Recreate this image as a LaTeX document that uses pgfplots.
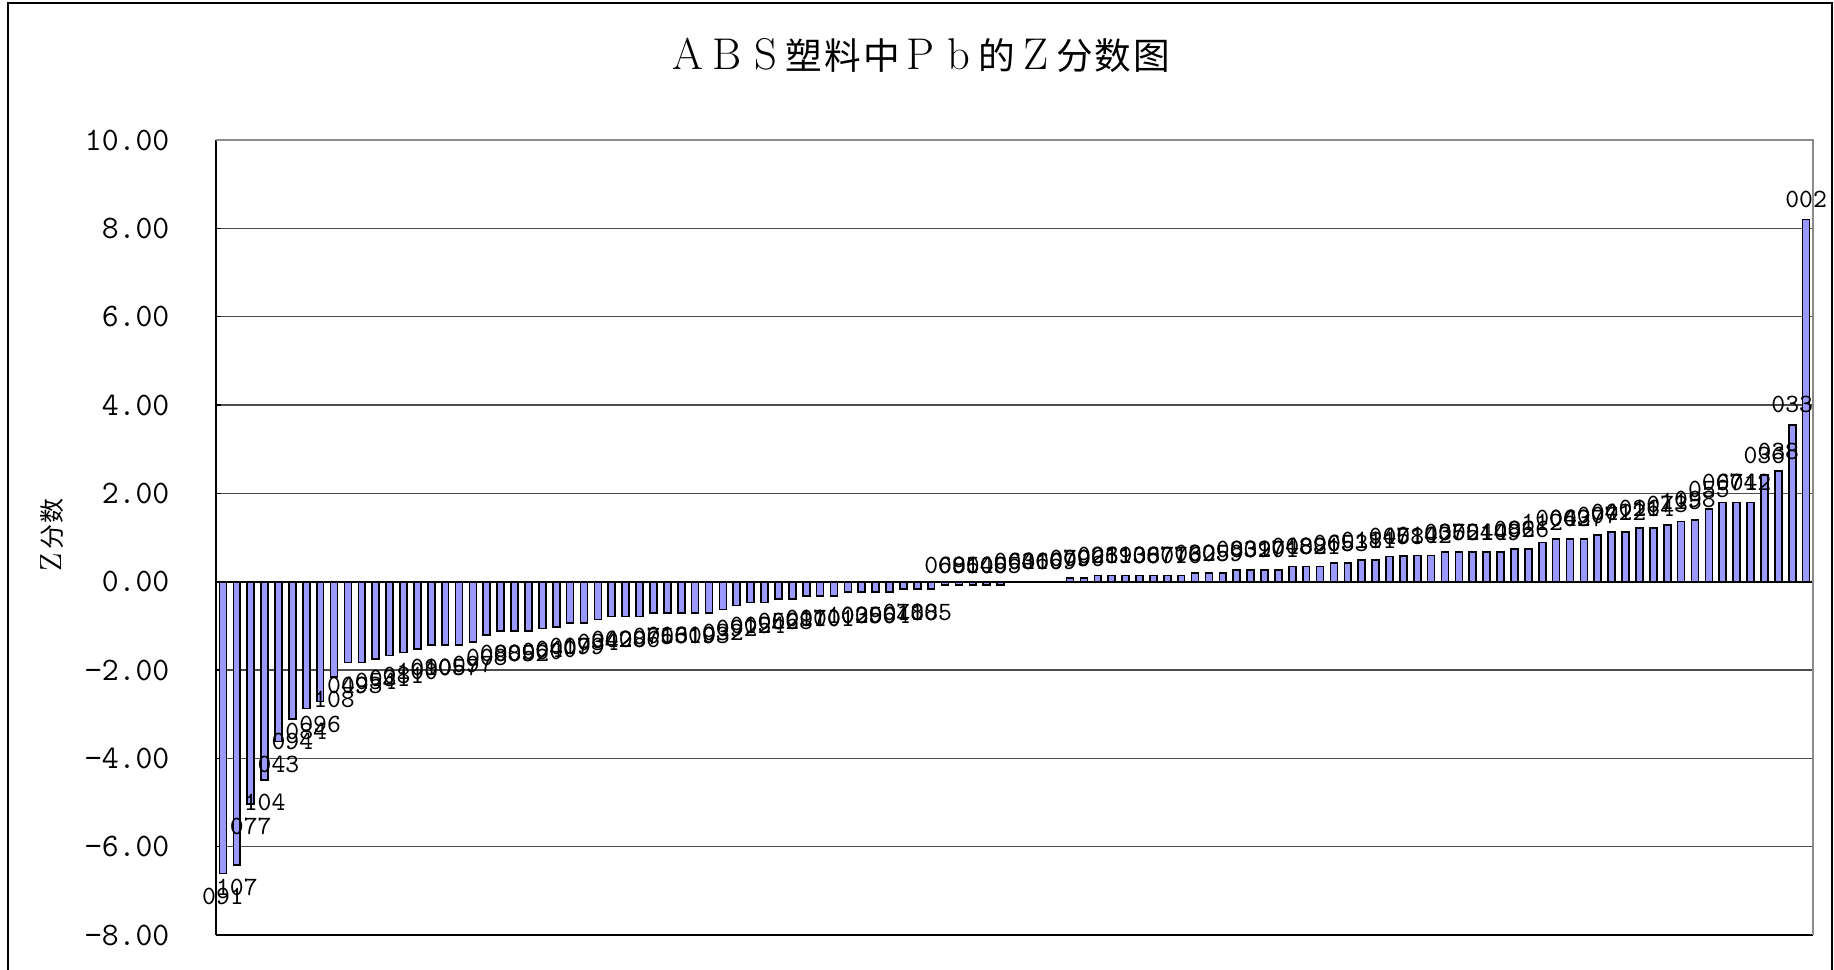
\documentclass[border=0pt]{standalone}
\usepackage{fontspec}
\usepackage{pgfplots}
\pgfplotsset{compat=1.18}
\usepackage{pgfplotstable}
\newfontfamily\cjk{Noto Sans CJK SC}
\definecolor{barfill}{HTML}{9999FF}
\newcommand\tl[1]{\makebox[13.9pt]{\rmfamily\fontsize{16}{16}\selectfont #1}}
\newcommand\tc[1]{\makebox[13.9pt]{\cjk\fontsize{13.2}{14}\selectfont #1}}
\newcommand\yl[1]{\makebox[9.2pt]{\rmfamily\fontsize{11}{12}\selectfont #1}}
\newcommand\yc[1]{\makebox[9.2pt]{\cjk\fontsize{9}{10}\selectfont #1}}

\pgfplotstableread{
i z lab
0 -6.61 091
1 -6.41 107
2 -5.03 077
3 -4.49 104
4 -3.62 043
5 -3.11 094
6 -2.87 084
7 -2.71 096
8 -2.16 108
9 -1.83 049
10 -1.83 093
11 -1.75 054
12 -1.67 031
13 -1.60 081
14 -1.52 100
15 -1.43 090
16 -1.43 105
17 -1.43 057
18 -1.36 097
19 -1.21 008
20 -1.12 080
21 -1.12 089
22 -1.12 052
23 -1.06 060
24 -1.02 040
25 -0.94 017
26 -0.94 099
27 -0.86 034
28 -0.79 042
29 -0.79 020
30 -0.79 086
31 -0.71 075
32 -0.71 013
33 -0.71 061
34 -0.71 019
35 -0.71 003
36 -0.63 032
37 -0.54 092
38 -0.47 015
39 -0.47 024
40 -0.39 056
41 -0.39 028
42 -0.32 011
43 -0.32 070
44 -0.32 001
45 -0.24 103
46 -0.24 029
47 -0.24 050
48 -0.24 064
49 -0.17 078
50 -0.17 110
51 -0.17 085
52 -0.08 068
53 -0.08 095
54 -0.08 010
55 -0.08 045
56 -0.08 005
57 0.00 063
58 0.00 046
59 0.00 016
60 0.00 009
61 0.08 079
62 0.08 006
63 0.14 023
64 0.14 069
65 0.14 113
66 0.14 106
67 0.14 087
68 0.14 071
69 0.14 076
70 0.19 030
71 0.19 025
72 0.19 059
73 0.27 083
74 0.27 039
75 0.27 027
76 0.27 101
77 0.34 048
78 0.34 088
79 0.34 021
80 0.42 065
81 0.42 053
82 0.49 018
83 0.49 111
84 0.57 047
85 0.58 058
86 0.59 014
87 0.59 102
88 0.67 035
89 0.67 072
90 0.67 051
91 0.67 044
92 0.67 109
93 0.74 082
94 0.74 066
95 0.89 112
96 0.97 004
97 0.97 062
98 0.97 037
99 1.05 007
100 1.12 041
101 1.12 022
102 1.21 026
103 1.21 114
104 1.29 073
105 1.36 115
106 1.40 098
107 1.64 055
108 1.79 067
109 1.79 074
110 1.79 012
111 2.41 036
112 2.50 038
113 3.55 033
114 8.20 002
}\zdata

\begin{document}
\begin{tikzpicture}
\path[use as bounding box] (0,0) rectangle (660.24pt,348.84pt);
\draw[black, line width=0.6pt] (2.88pt,-10pt) rectangle (659.52pt,347.76pt);
\begin{axis}[
  name=ax,
  at={(77.76pt,12.24pt)}, anchor=south west,
  scale only axis, width=574.92pt, height=286.2pt,
  xmin=-0.5, xmax=114.5, ymin=-8, ymax=10,
  xtick=\empty,
  ytick={-8,-6,-4,-2,0,2,4,6,8,10},
  yticklabels={−8.00,−6.00,−4.00,−2.00,0.00,2.00,4.00,6.00,8.00,10.00},
  yticklabel style={font=\ttfamily\fontsize{11.8}{12}\selectfont, inner sep=0pt, xshift=-16.6pt},
  axis x line*=bottom, axis y line*=left,
  axis line style={black, line width=0.6pt, -},
  tick align=inside, major tick length=1.8pt, ytick style={black, line width=0.5pt},
  ymajorgrids, major grid style={black!70, line width=0.5pt},
  extra y ticks={0}, extra y tick labels={},
  extra y tick style={major grid style={black, line width=0.7pt}},
]
\addplot[ybar, bar width=0.5, fill=barfill, draw=black, line width=0.6pt] table[x=i, y=z] {\zdata};
\addplot[draw=none, mark=none, restrict y to domain=-0.1:100,
  nodes near coords, point meta=explicit symbolic,
  every node near coord/.append style={anchor=south, inner sep=1pt, yshift=3pt, font=\ttfamily\fontsize{9.5}{10}\selectfont, text=black}]
  table[x=i, y=z, meta=lab] {\zdata};
\addplot[draw=none, mark=none, restrict y to domain=-100:-0.1,
  nodes near coords, point meta=explicit symbolic,
  every node near coord/.append style={anchor=north, inner sep=1pt, yshift=-4pt, font=\ttfamily\fontsize{9.5}{10}\selectfont, text=black}]
  table[x=i, y=z, meta=lab] {\zdata};
\end{axis}
\draw[black!45, line width=0.6pt] (ax.north west) -- (ax.north east) -- (ax.south east);
\node at (331.2pt,329.0pt) {\tl{A}\tl{B}\tl{S}\tc{塑}\tc{料}\tc{中}\tl{P}\tl{b}\tc{的}\tl{Z}\tc{分}\tc{数}\tc{图}};
\node[rotate=90] at (18.7pt,155.7pt) {\yl{Z}\yc{分}\yc{数}};
\end{tikzpicture}
\end{document}
